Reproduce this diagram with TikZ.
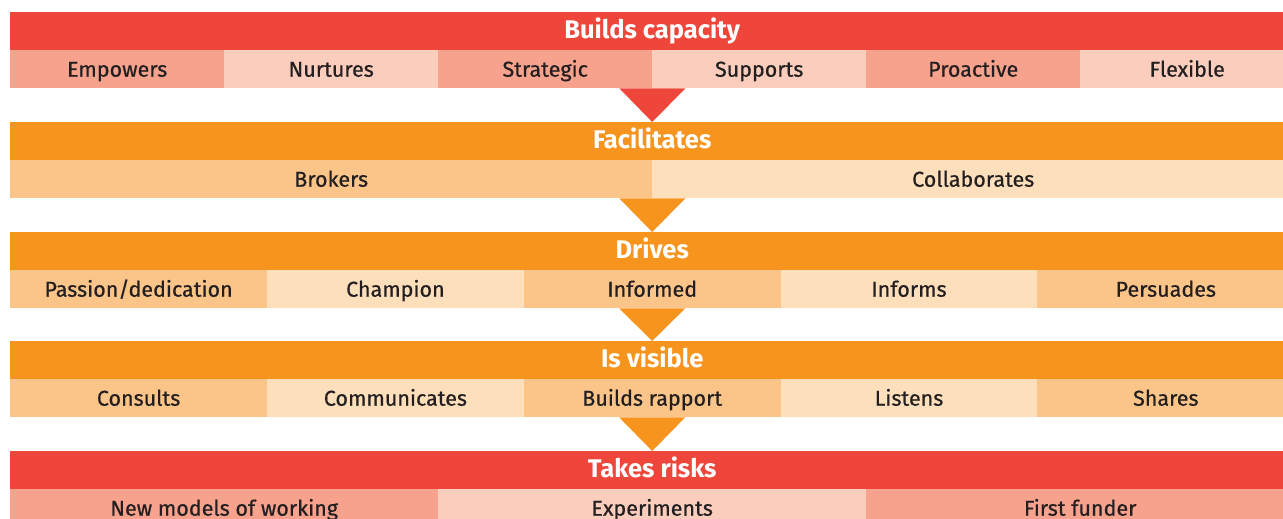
\documentclass[tikz,border=0pt]{standalone}
\usepackage{fontspec}
\setmainfont{Fira Sans}
\newfontfamily\subfont[FakeBold=0.6]{Fira Sans}
\definecolor{hred}{HTML}{EF463B}
\definecolor{sdark}{HTML}{F6A28C}
\definecolor{slight}{HTML}{FBCDBD}
\definecolor{horange}{HTML}{F7941D}
\definecolor{odark}{HTML}{FBC489}
\definecolor{olight}{HTML}{FDDFBC}
\definecolor{txt}{HTML}{231F20}
\tikzset{
  hdr/.style={anchor=north west, minimum width=1284pt, minimum height=38pt, inner sep=0pt, text height=17.6pt, text depth=3.5pt, text=white, font=\fontsize{25.5}{25}\selectfont\bfseries},
  cell/.style={anchor=north west, minimum height=38pt, inner sep=0pt, text height=15pt, text depth=0pt, text=txt, font=\subfont\fontsize{21.5}{21}\selectfont}
}
\begin{document}
\begin{tikzpicture}[x=1pt,y=-1pt]
\useasboundingbox (0,0) rectangle (1283,519);
% band 1
\node[hdr, fill=hred] (h1) at (10,12) {Builds capacity};
\node[cell, fill=sdark, minimum width=214pt] (c11) at (10,50) {Empowers};
\node[cell, fill=slight, minimum width=214pt] (c12) at (224,50) {Nurtures};
\node[cell, fill=sdark, minimum width=214pt] (c13) at (438,50) {Strategic};
\node[cell, fill=slight, minimum width=214pt] (c14) at (652,50) {Supports};
\node[cell, fill=sdark, minimum width=214pt] (c15) at (866,50) {Proactive};
\node[cell, fill=slight, minimum width=214pt] (c16) at (1080,50) {Flexible};
% band 2
\node[hdr, fill=horange] (h2) at (10,122) {Facilitates};
\node[cell, fill=odark, minimum width=642pt] (c21) at (10,160) {Brokers};
\node[cell, fill=olight, minimum width=642pt] (c22) at (652,160) {Collaborates};
% band 3
\node[hdr, fill=horange] (h3) at (10,232) {Drives};
\node[cell, fill=odark, minimum width=256.8pt] (c31) at (10,270) {Passion/dedication};
\node[cell, fill=olight, minimum width=256.8pt] (c32) at (266.8,270) {Champion};
\node[cell, fill=odark, minimum width=256.8pt] (c33) at (523.6,270) {Informed};
\node[cell, fill=olight, minimum width=256.8pt] (c34) at (780.4,270) {Informs};
\node[cell, fill=odark, minimum width=256.8pt] (c35) at (1037.2,270) {Persuades};
% band 4
\node[hdr, fill=horange] (h4) at (10,341) {Is visible};
\node[cell, fill=odark, minimum width=256.8pt] (c41) at (10,379) {Consults};
\node[cell, fill=olight, minimum width=256.8pt] (c42) at (266.8,379) {Communicates};
\node[cell, fill=odark, minimum width=256.8pt] (c43) at (523.6,379) {Builds rapport};
\node[cell, fill=olight, minimum width=256.8pt] (c44) at (780.4,379) {Listens};
\node[cell, fill=odark, minimum width=256.8pt] (c45) at (1037.2,379) {Shares};
% band 5
\node[hdr, fill=hred] (h5) at (10,451) {Takes risks};
\node[cell, fill=sdark, minimum width=428pt] (c51) at (10,489) {New models of working};
\node[cell, fill=slight, minimum width=428pt] (c52) at (438,489) {Experiments};
\node[cell, fill=sdark, minimum width=428pt] (c53) at (866,489) {First funder};
% arrows
\fill[hred] (c13.south east) ++(-33,0) -- ++(66,0) -- (h2.north) -- cycle;
\fill[horange] (c21.south east) ++(-33,0) -- ++(66,0) -- (h3.north) -- cycle;
\fill[horange] (c33.south) ++(-33,0) -- ++(66,0) -- (h4.north) -- cycle;
\fill[horange] (c43.south) ++(-33,0) -- ++(66,0) -- (h5.north) -- cycle;
\end{tikzpicture}
\end{document}
